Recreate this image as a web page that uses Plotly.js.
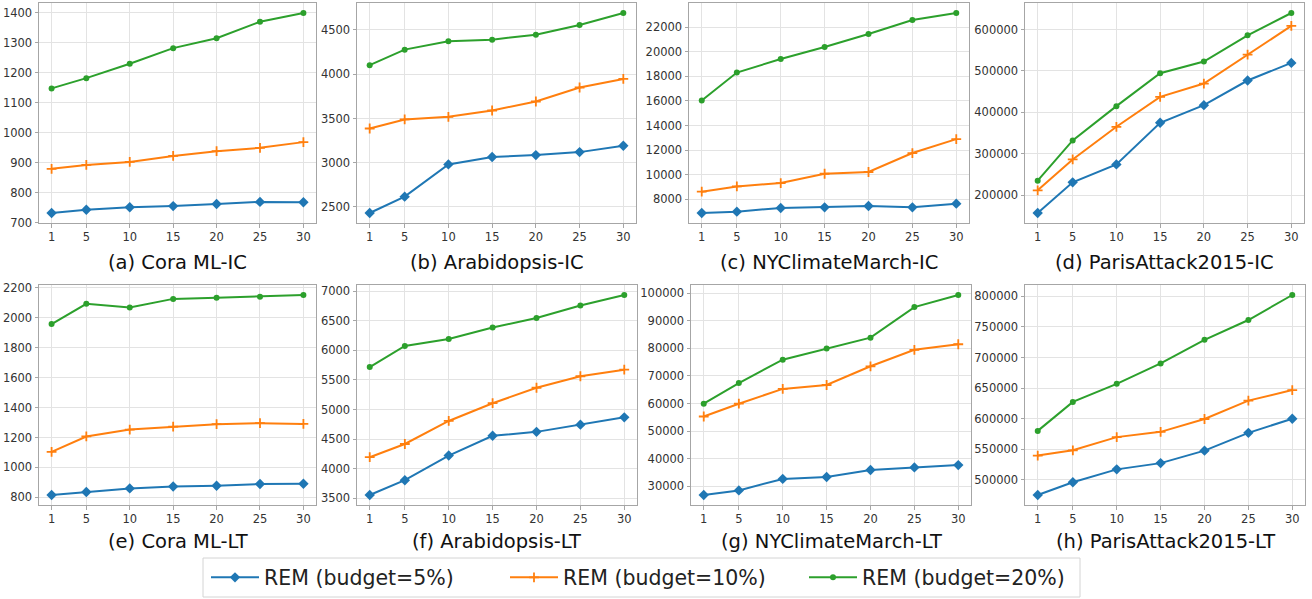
<!DOCTYPE html>
<html>
<head>
<meta charset="utf-8">
<script src="https://cdn.plot.ly/plotly-3.0.1.min.js"></script>
<style>html,body{margin:0;padding:0;background:#fff;}#chart{width:1312px;height:599px;}</style>
</head>
<body>
<div id="chart"></div>
<script>
const budgets = [1, 5, 10, 15, 20, 25, 30];
const seriesNames = ["REM (budget=5%)", "REM (budget=10%)", "REM (budget=20%)"];
const panelTitles = ["(a) Cora ML-IC", "(b) Arabidopsis-IC", "(c) NYClimateMarch-IC", "(d) ParisAttack2015-IC",
                     "(e) Cora ML-LT", "(f) Arabidopsis-LT", "(g) NYClimateMarch-LT", "(h) ParisAttack2015-LT"];

const coraIC_b5  = [733, 744, 752, 756, 763, 770, 769];
const coraIC_b10 = [880, 893, 903, 923, 939, 950, 969];
const coraIC_b20 = [1148, 1182, 1230, 1282, 1315, 1370, 1399];

const arabIC_b5  = [2432, 2617, 2981, 3064, 3086, 3120, 3192];
const arabIC_b10 = [3387, 3489, 3519, 3590, 3692, 3850, 3947];
const arabIC_b20 = [4102, 4278, 4372, 4391, 4447, 4556, 4692];

const nyIC_b5  = [6890, 7000, 7300, 7350, 7460, 7350, 7650];
const nyIC_b10 = [8620, 9050, 9320, 10080, 10220, 11760, 12890];
const nyIC_b20 = [16030, 18300, 19400, 20380, 21430, 22570, 23140];

const parisIC_b5  = [156500, 230600, 274000, 374600, 417300, 476900, 519500];
const parisIC_b10 = [211300, 286100, 365000, 437400, 469600, 539600, 608900];
const parisIC_b20 = [234600, 332000, 414900, 494600, 522700, 586300, 640200];

const coraLT_b5  = [816, 836, 860, 873, 878, 889, 891];
const coraLT_b10 = [1104, 1207, 1253, 1273, 1289, 1296, 1291];
const coraLT_b20 = [1958, 2093, 2068, 2126, 2133, 2141, 2152];

const arabLT_b5  = [3556, 3806, 4222, 4556, 4622, 4744, 4867];
const arabLT_b10 = [4194, 4417, 4806, 5106, 5367, 5561, 5672];
const arabLT_b20 = [5717, 6072, 6189, 6383, 6544, 6756, 6933];

const nyLT_b5  = [26780, 28450, 32620, 33340, 35840, 36800, 37630];
const nyLT_b10 = [55280, 59930, 65300, 66730, 73520, 79490, 81510];
const nyLT_b20 = [59930, 67440, 75910, 79970, 83900, 95000, 99400];

const parisLT_b5  = [475300, 496200, 517200, 527400, 547800, 576900, 600000];
const parisLT_b10 = [539800, 548400, 569900, 578500, 599500, 629600, 646800];
const parisLT_b20 = [580100, 627400, 657000, 690300, 729000, 761300, 802200];

const yTickSteps = [100, 500, 2000, 100000, 200, 500, 10000, 50000];

const panels = [
  [coraIC_b5, coraIC_b10, coraIC_b20], [arabIC_b5, arabIC_b10, arabIC_b20],
  [nyIC_b5, nyIC_b10, nyIC_b20], [parisIC_b5, parisIC_b10, parisIC_b20],
  [coraLT_b5, coraLT_b10, coraLT_b20], [arabLT_b5, arabLT_b10, arabLT_b20],
  [nyLT_b5, nyLT_b10, nyLT_b20], [parisLT_b5, parisLT_b10, parisLT_b20]
];

// layout geometry (pixels)
const W = 1312, H = 599;
const colsX = [[39, 316], [357, 636], [689, 969], [1025, 1304], [39, 316], [357, 637], [691, 971], [1025, 1305]];
const rowsY = [[3, 223], [285, 505]];
const titleY = [262, 541];
const legendBox = {x0: 203, x1: 1080, y0: 558, y1: 597};

const colors = ["#1f77b4", "#ff7f0e", "#2ca02c"];
const symbols = ["diamond", "cross-thin", "circle"];
const msizes = [8, 7, 6];
const mlines = [0, 1.8, 0];

const traces = [];
const layout = {
  width: W, height: H,
  margin: {l: 0, r: 0, t: 0, b: 0},
  paper_bgcolor: "#fff", plot_bgcolor: "#fff",
  font: {family: "DejaVu Sans", color: "#333"},
  showlegend: true,
  legend: {
    orientation: "h", x: (legendBox.x0 + 3) / W, xanchor: "left",
    y: 1 - ((legendBox.y0 + legendBox.y1) / 2) / H, yanchor: "middle",
    font: {family: "DejaVu Sans", size: 20.5, color: "#222"},
    bordercolor: "rgba(0,0,0,0)", borderwidth: 0, bgcolor: "rgba(0,0,0,0)",
    itemwidth: 48, entrywidth: 236, entrywidthmode: "pixels", tracegroupgap: 0
  },
  shapes: [{
    type: "rect", xref: "paper", yref: "paper", layer: "below",
    x0: legendBox.x0 / W, x1: legendBox.x1 / W, y0: 1 - legendBox.y1 / H, y1: 1 - legendBox.y0 / H,
    line: {color: "#d4d4d4", width: 1}, fillcolor: "#fff"
  }],
  annotations: [],
  hovermode: false
};

panels.forEach((series, p) => {
  const idx = p + 1;
  const xa = idx === 1 ? "x" : "x" + idx;
  const ya = idx === 1 ? "y" : "y" + idx;
  series.forEach((vals, s) => {
    traces.push({
      x: budgets, y: vals, xaxis: xa, yaxis: ya,
      type: "scatter", mode: "lines+markers",
      name: seriesNames[s], legendgroup: "s" + s, showlegend: p === 0,
      line: {color: colors[s], width: 2},
      marker: {symbol: symbols[s], size: msizes[s], color: colors[s], line: {width: mlines[s], color: colors[s]}}
    });
  });
  const all = [].concat(...series);
  const mn = Math.min(...all), mx = Math.max(...all);
  const pad = (mx - mn) * 0.05;
  const row = p < 4 ? 0 : 1;
  const [x0, x1] = colsX[p];
  const [yt, yb] = rowsY[row];
  const axCommon = {
    showline: true, mirror: true, linecolor: "#a6a6a6", linewidth: 1,
    showgrid: true, gridcolor: "#e3e3e3", gridwidth: 1, zeroline: false,
    ticks: "outside", ticklen: 3.5, tickcolor: "#a6a6a6",
    tickfont: {family: "DejaVu Sans", size: 11.5, color: "#333"}
  };
  layout["xaxis" + (idx === 1 ? "" : idx)] = Object.assign({}, axCommon, {
    domain: [x0 / W, x1 / W], anchor: ya,
    range: [budgets[0] - 1.45, budgets[budgets.length - 1] + 1.45],
    tickmode: "array", tickvals: budgets, ticktext: budgets.map(String)
  });
  layout["yaxis" + (idx === 1 ? "" : idx)] = Object.assign({}, axCommon, {
    domain: [1 - yb / H, 1 - yt / H], anchor: xa,
    range: [mn - pad, mx + pad], dtick: yTickSteps[p], tick0: 0,
    tickformat: "d"
  });
  layout.annotations.push({
    text: panelTitles[p], xref: "paper", yref: "paper",
    x: ((x0 + x1) / 2) / W, y: 1 - titleY[row] / H, xanchor: "center", yanchor: "middle",
    showarrow: false, font: {family: "DejaVu Sans", size: 19.5, color: "#111"}
  });
});

Plotly.newPlot("chart", traces, layout, {displayModeBar: false, staticPlot: true});
</script>
</body>
</html>
